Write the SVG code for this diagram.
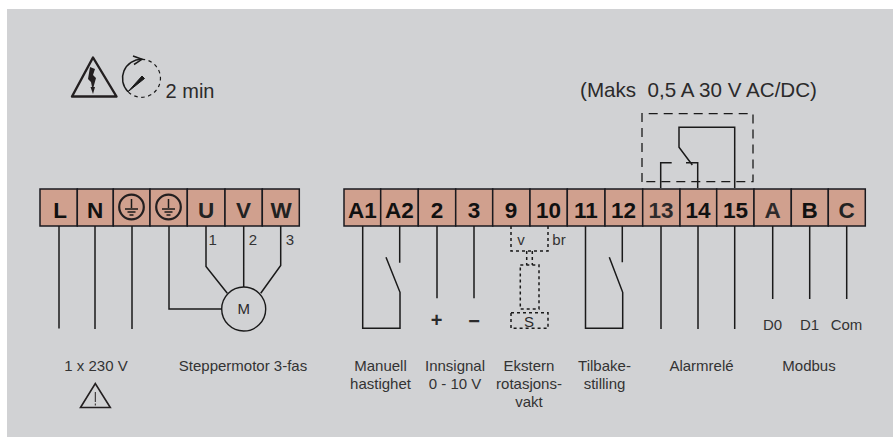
<svg xmlns="http://www.w3.org/2000/svg" width="893" height="437" viewBox="0 0 893 437">
<style>
text{font-family:"Liberation Sans",Arial,sans-serif;fill:#2b2a2b}
.t{fill:#d0a08e;stroke:#1a1a1f;stroke-width:1.500}
.k{font-size:22.500px;font-weight:bold;text-anchor:middle;fill:#111}
.l{font-size:15px;text-anchor:middle;fill:#333}
.w{fill:none;stroke:#1a1a1a;stroke-width:1.500}
.d{fill:none;stroke:#1a1a1a;stroke-width:1.500;stroke-dasharray:3 3}
</style>
<rect width="893" height="437" fill="#fff"/>
<rect x="7" y="9" width="886" height="428" fill="#d1d2d4"/>
<g id="warning-shock"><path d="M72 96.500L93 57.500L116.500 96.500Z" fill="none" stroke="#231f20" stroke-width="2.400" stroke-linejoin="round"/><path d="M90 67L88 79L91 82L92 87L90.500 87L93 94L95 87L93.500 87L96 78L93 75L95 69Z" fill="#231f20"/></g>
<g id="timer"><path d="M141.700 59.300A19 19 0 0 0 128 91.700" class="w"/><path d="M133 56L142 59.300L134 64.500" class="w"/><path d="M141.700 59.300A19 19 0 1 1 128 91.700" fill="none" stroke="#1a1a1a" stroke-width="1.200" stroke-dasharray="3.500 3.500"/><path d="M128 91.700L142 76L144.500 78.500Z" fill="#1a1a1a" stroke="#1a1a1a"/><text x="190" y="98" font-size="20" text-anchor="middle">2 min</text></g>
<g id="terminal-L"><rect class="t" x="40" y="189" width="37.300" height="37"/><text class="k" x="60" y="217.500">L</text></g>
<g id="terminal-N"><rect class="t" x="77.300" y="189" width="36" height="37"/><text class="k" x="95" y="217.500">N</text></g>
<g id="terminal-PE1"><rect class="t" x="113.300" y="189" width="36.700" height="37"/><circle cx="131.500" cy="207" r="12.300" fill="none" stroke="#231f20" stroke-width="2.200"/><path class="w" d="M131.500 199V208M125 209H138M127.500 212H135.500M129.500 215H133.500"/></g>
<g id="terminal-PE2"><rect class="t" x="150" y="189" width="37.300" height="37"/><circle cx="168.500" cy="207" r="12.300" fill="none" stroke="#231f20" stroke-width="2.200"/><path class="w" d="M168.500 199V208M162 209H175M164.500 212H172.500M166.500 215H170.500"/></g>
<g id="terminal-U"><rect class="t" x="187.300" y="189" width="37.700" height="37"/><text class="k" x="206" y="217.500" style="fill:#222">U</text></g>
<g id="terminal-V"><rect class="t" x="225" y="189" width="37.300" height="37"/><text class="k" x="243.500" y="217.500" style="fill:#222">V</text></g>
<g id="terminal-W"><rect class="t" x="262.300" y="189" width="37" height="37"/><text class="k" x="281" y="217.500" style="fill:#222">W</text></g>
<g id="terminal-A1"><rect class="t" x="344" y="189" width="36.700" height="37"/><text class="k" x="362.500" y="217.500">A1</text></g>
<g id="terminal-A2"><rect class="t" x="380.700" y="189" width="37.600" height="37"/><text class="k" x="399.500" y="217.500">A2</text></g>
<g id="terminal-2"><rect class="t" x="418.300" y="189" width="37.400" height="37"/><text class="k" x="437" y="217.500">2</text></g>
<g id="terminal-3"><rect class="t" x="455.700" y="189" width="37" height="37"/><text class="k" x="474" y="217.500">3</text></g>
<g id="terminal-9"><rect class="t" x="492.700" y="189" width="37.300" height="37"/><text class="k" x="511" y="217.500">9</text></g>
<g id="terminal-10"><rect class="t" x="530" y="189" width="37.300" height="37"/><text class="k" x="548.500" y="217.500">10</text></g>
<g id="terminal-11"><rect class="t" x="567.300" y="189" width="37.700" height="37"/><text class="k" x="586" y="217.500">11</text></g>
<g id="terminal-12"><rect class="t" x="605" y="189" width="37.700" height="37"/><text class="k" x="623.500" y="217.500">12</text></g>
<g id="terminal-13"><rect class="t" x="642.700" y="189" width="37.300" height="37"/><text class="k" x="661" y="217.500" style="fill:#2e2a2b">13</text></g>
<g id="terminal-14"><rect class="t" x="680" y="189" width="36.700" height="37"/><text class="k" x="698" y="217.500">14</text></g>
<g id="terminal-15"><rect class="t" x="716.700" y="189" width="37.300" height="37"/><text class="k" x="735.500" y="217.500">15</text></g>
<g id="terminal-A"><rect class="t" x="754" y="189" width="37.300" height="37"/><text class="k" x="772.500" y="217.500" style="fill:#2e2a2b">A</text></g>
<g id="terminal-B"><rect class="t" x="791.300" y="189" width="37" height="37"/><text class="k" x="809.500" y="217.500">B</text></g>
<g id="terminal-C"><rect class="t" x="828.300" y="189" width="37" height="37"/><text class="k" x="846.500" y="217.500" style="fill:#222">C</text></g>
<g id="connectors">
<path class="w" d="M59 226V328.500M95 226V329M132 226V329"/>
<path class="w" d="M169 226V309H222M206 226V266.500L227.300 293.300M243.700 226V287M280.700 226V265.500L260.700 293.300"/>
<path class="w" d="M362.700 226V328.300H400V292.300L386 257.300M399.700 226V262.700"/>
<path class="w" d="M437 226V298.300M474 226V298.300"/>
<path class="d" d="M511 226V251H548V226M526.700 251V265M532.300 251V265M520.300 265H539V309H520.300ZM511 312.700H548V328.300H511Z"/>
<path class="w" d="M585.500 226V328.300H622.700V292.300L609.300 257.300M622.300 226V262.300"/>
<path class="w" d="M661 226V329M698 226V329M734.700 226V329M772.700 226V299M809.700 226V299M846.700 226V299"/>
<path class="w" d="M660.700 188V162.700H671.700M686 162.700H697.700V188M734.700 188V127.300H679V147.300L692.300 165"/>
<path d="M642 182V113.700H753V181.700H642" fill="none" stroke="#1a1a1a" stroke-width="1.300" stroke-dasharray="9 6"/>
</g>
<g id="motor"><circle cx="243.700" cy="309" r="22" fill="none" stroke="#1a1a1a" stroke-width="1.400"/><text x="243.700" y="313.500" font-size="15" text-anchor="middle">M</text></g>
<g id="labels">
<text class="l" x="212.700" y="245">1</text><text class="l" x="253" y="245">2</text><text class="l" x="290" y="245">3</text>
<text class="l" x="521" y="245">v</text><text class="l" x="559" y="245">br</text><text x="529" y="326.500" font-size="15" text-anchor="middle">S</text>
<text x="436.700" y="327" font-size="20" font-weight="bold" text-anchor="middle">+</text><text x="474" y="328" font-size="20" font-weight="bold" text-anchor="middle">−</text>
<text class="l" x="772.500" y="330">D0</text><text class="l" x="809.500" y="330">D1</text><text class="l" x="846.500" y="330">Com</text>
<text x="698.500" y="97.300" font-size="20.600" text-anchor="middle" xml:space="preserve">(Maks  0,5 A 30 V AC/DC)</text>
<text class="l" x="96" y="371">1 x 230 V</text><text class="l" x="243" y="371">Steppermotor 3-fas</text>
<text class="l" x="380.500" y="371">Manuell</text><text class="l" x="380.500" y="389">hastighet</text>
<text class="l" x="455" y="371">Innsignal</text><text class="l" x="455" y="389">0 - 10 V</text>
<text class="l" x="529" y="371">Ekstern</text><text class="l" x="529" y="389">rotasjons-</text><text class="l" x="529" y="407">vakt</text>
<text class="l" x="604.500" y="371">Tilbake-</text><text class="l" x="604.500" y="389">stilling</text>
<text class="l" x="701.500" y="371">Alarmrelé</text><text class="l" x="809" y="371">Modbus</text>
</g>
<g id="warning"><path d="M80.500 407.500L95.300 383.500L110.300 407.500Z" fill="none" stroke="#231f20" stroke-width="1.600"/><path d="M95.300 392V402M95.300 403.500V405.500" stroke="#231f20" fill="none"/></g>
</svg>
